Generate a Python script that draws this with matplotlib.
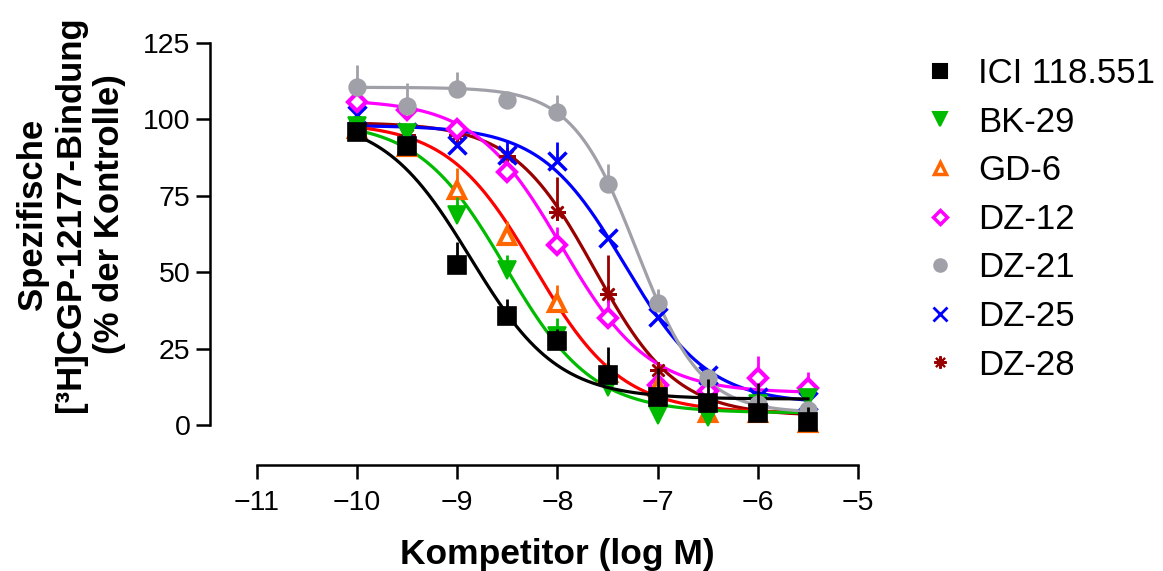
import numpy as np
import matplotlib
matplotlib.use("Agg")
import matplotlib.pyplot as plt
from matplotlib.lines import Line2D

plt.rcParams['font.family'] = ['Liberation Sans', 'DejaVu Sans']

log_conc = [-10, -9.5, -9, -8.5, -8, -7.5, -7, -6.5, -6, -5.5]

names = ["ICI 118.551", "BK-29", "GD-6", "DZ-12", "DZ-21", "DZ-25", "DZ-28"]

ici_mean = [96, 91.3, 52.4, 35.7, 27.5, 16.4, 9.2, 7.2, 3.9, 1.0]
ici_err = [0, 0, 7.5, 5.5, 4, 9, 9.4, 8, 10, 5]
bk29_mean = [98, 95.5, 68.7, 50.7, 29, 12.4, 3.3, 2.7, 7.0, 8.8]
bk29_err = [0, 0, 6, 5, 6, 0, 0, 0, 0, 0]
gd6_mean = [97, 91, 77, 61.8, 39.9, 17, 12.5, 4, 4, 0.7]
gd6_err = [0, 0, 7, 5, 6, 0, 0, 0, 0, 0]
dz12_mean = [105.8, 103, 96.9, 82.8, 58.9, 35.0, 13, 11, 15.3, 12.0]
dz12_err = [2, 2, 3, 3, 6, 6, 0, 0, 7.3, 5.5]
dz21_mean = [110.7, 104.4, 110.0, 106.3, 102.5, 79.0, 40.0, 15.3, 7, 4.9]
dz21_err = [7, 7.5, 5.5, 2, 5.5, 6.5, 4.5, 0, 0, 0]
dz25_mean = [101.5, 96, 91.6, 88.3, 86.5, 61.2, 35.4, 16.5, 9, 8]
dz25_err = [0, 0, 0, 5, 6, 0, 0, 0, 0, 0]
dz28_mean = [98, 95, 95, 88, 69.8, 42.9, 18, 7, 5, 3]
dz28_err = [0, 0, 0, 0, 11.5, 12.7, 0, 0, 0, 0]

# fitted 4-parameter logistic curve parameters
fit_top = [101, 99.5, 99, 106.5, 110.5, 98, 99]
fit_bottom = [8.5, 4, 4, 10.5, 4, 7, 3]
fit_logic50 = [-8.87, -8.52, -8.23, -7.96, -7.21, -7.33, -7.63]
fit_hill = [1.0, 1.0, 1.0, 1.0, 1.35, 1.04, 1.06]

x_ticks = [-11, -10, -9, -8, -7, -6, -5]
y_ticks = [0, 25, 50, 75, 100, 125]

means = [ici_mean, bk29_mean, gd6_mean, dz12_mean, dz21_mean, dz25_mean, dz28_mean]
errs = [ici_err, bk29_err, gd6_err, dz12_err, dz21_err, dz25_err, dz28_err]

marker_colors = ["#000000", "#00BB00", "#FF6600", "#FF00FF", "#A0A0A8", "#0000FF", "#990000"]
line_colors = ["#000000", "#00BB00", "#FF0000", "#FF00FF", "#A0A0A8", "#0000FF", "#990000"]
markers = ["s", "v", "^", "D", "o", "x", (8, 2, 0)]
msizes = [13, 12.5, 11.5, 9.5, 12, 13, 12]
filled = [True, True, False, False, True, True, True]
zorders = [20, 14, 13, 12, 15, 11, 10]

fig = plt.figure(figsize=(11.63, 5.71), dpi=100)
ax = fig.add_axes([210 / 1163, 106 / 571, 648 / 1163, 422 / 571])

xs = np.linspace(-10, -5.5, 400)
for i in range(len(names)):
    top, bot, c, h = fit_top[i], fit_bottom[i], fit_logic50[i], fit_hill[i]
    ys = bot + (top - bot) / (1 + 10 ** ((xs - c) * h))
    ax.plot(xs, ys, color=line_colors[i], lw=2.3, zorder=zorders[i] - 5, clip_on=False)

for i in range(len(names)):
    m = np.array(means[i])
    e = np.array(errs[i])
    ax.errorbar(log_conc, m, yerr=[np.zeros_like(e), e], fmt="none",
                ecolor=marker_colors[i], elinewidth=2, capsize=0,
                zorder=zorders[i], clip_on=False)
    if filled[i]:
        ax.plot(log_conc, m, linestyle="none", marker=markers[i], ms=msizes[i],
                color=marker_colors[i], mec=marker_colors[i],
                mew=2.5 if markers[i] == "x" else (1.8 if i == 6 else 1.2),
                zorder=zorders[i] + 0.5, clip_on=False)
    else:
        ax.plot(log_conc, m, linestyle="none", marker=markers[i], ms=msizes[i],
                mfc="white", mec=marker_colors[i], mew=3,
                zorder=zorders[i] + 0.5, clip_on=False)

ax.set_xlim(-11.469, -5)
ax.set_ylim(-13.09, 125)
ax.spines["top"].set_visible(False)
ax.spines["right"].set_visible(False)
ax.spines["left"].set_bounds(0, 125)
ax.spines["bottom"].set_bounds(-11, -5)
for s in ("left", "bottom"):
    ax.spines[s].set_linewidth(1.8)
ax.set_xticks(x_ticks)
ax.set_xticklabels([str(t).replace("-", "\u2212") for t in x_ticks])
ax.set_yticks(y_ticks)
ax.tick_params(axis="both", length=10, width=1.8, labelsize=20.5)
ax.tick_params(axis="x", pad=8)
ax.tick_params(axis="y", pad=4)
ax.patch.set_alpha(0)

ax.set_xlabel("Kompetitor (log M)", fontsize=25.5, fontweight="bold", labelpad=16,
              x=(557 - 210) / 648)
fig.text(71 / 1163, 1 - 214 / 571,
         "Spezifische\n[³H]CGP-12177-Bindung\n(% der Kontrolle)",
         rotation=90, ha="center", va="center", multialignment="center",
         fontsize=25, fontweight="bold", linespacing=1.22)

handles = []
for i in range(len(names)):
    if filled[i]:
        h = Line2D([], [], linestyle="none", marker=markers[i], ms=msizes[i] * 0.75,
                   color=marker_colors[i], mew=2 if markers[i] == "x" else 1.5)
    else:
        h = Line2D([], [], linestyle="none", marker=markers[i], ms=msizes[i] * 0.75,
                   mfc="white", mec=marker_colors[i], mew=2.5)
    handles.append(h)
fig.legend(handles, names, loc="upper left", bbox_to_anchor=(909 / 1163, 1 - 43 / 571),
           frameon=False, fontsize=25, labelspacing=0.45, handletextpad=0.6,
           handlelength=1.0, borderaxespad=0)

fig.savefig("out.png", dpi=100)
